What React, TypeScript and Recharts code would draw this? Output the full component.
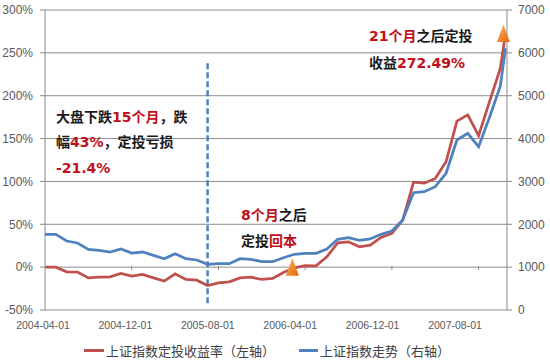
import React from 'react';
import {
  ComposedChart,
  Line,
  XAxis,
  YAxis,
  CartesianGrid,
  ReferenceLine,
  ReferenceDot,
  Legend,
  Customized,
} from 'recharts';

// ---------- data ----------
const dates = [
  '2004-04-01', '2004-05-01', '2004-06-01', '2004-07-01', '2004-08-01', '2004-09-01',
  '2004-10-01', '2004-11-01', '2004-12-01', '2005-01-01', '2005-02-01', '2005-03-01',
  '2005-04-01', '2005-05-01', '2005-06-01', '2005-07-01', '2005-08-01', '2005-09-01',
  '2005-10-01', '2005-11-01', '2005-12-01', '2006-01-01', '2006-02-01', '2006-03-01',
  '2006-04-01', '2006-05-01', '2006-06-01', '2006-07-01', '2006-08-01', '2006-09-01',
  '2006-10-01', '2006-11-01', '2006-12-01', '2007-01-01', '2007-02-01', '2007-03-01',
  '2007-04-01', '2007-05-01', '2007-06-01', '2007-07-01', '2007-08-01', '2007-09-01',
  '2007-10-01', '2007-10-16',
];

// 上证指数定投收益率 (%), left axis
const returnPct = [
  0, 0, -5.5, -5.8, -12.5, -11.7, -11.3, -7.4, -10.5, -8.5, -12.5, -16.3,
  -7.8, -14.4, -15.2, -21.4, -18.3, -17.2, -12.5, -11.7, -14.4, -13.2, -6.2, -0.8,
  1.8, 1.5, 12.0, 28.4, 29.5, 23.7, 25.7, 34.7, 39.3, 54.8, 99.2, 98.0,
  103.5, 122.9, 170.3, 177.7, 153.4, 192.9, 231.8, 272.49,
];

// 上证指数 level, right axis
const indexLevel = [
  1766, 1766, 1610, 1563, 1416, 1393, 1353, 1423, 1330, 1353, 1276, 1197,
  1314, 1197, 1167, 1066, 1080, 1080, 1197, 1183, 1127, 1127, 1220, 1300,
  1323, 1323, 1423, 1650, 1687, 1627, 1657, 1766, 1843, 2100, 2737, 2760,
  2877, 3190, 3967, 4123, 3810, 4490, 5220, 6107,
];

const xTickLabels = ['2004-04-01', '2004-12-01', '2005-08-01', '2006-04-01', '2006-12-01', '2007-08-01'];
const leftTicks = [-50, 0, 50, 100, 150, 200, 250, 300];
const rightTicks = [0, 1000, 2000, 3000, 4000, 5000, 6000, 7000];

const dipDate = '2005-07-01';
const dipLineRange = [238, -42];
const breakevenDate = '2006-02-24';
const breakevenValue = 0;
const finalMarkDate = '2007-10-10';
const finalValue = 272.49;

const seriesNames = ['上证指数定投收益率（左轴）', '上证指数走势（右轴）'];

// ---------- helpers ----------
const toT = (s: string) => {
  const [y, m, d] = s.split('-').map(Number);
  const dim = new Date(y, m, 0).getDate();
  return (y - 2004) * 12 + (m - 4) + (d - 1) / dim;
};

const data = dates.map((d, i) => ({ t: toT(d), ret: returnPct[i], idx: indexLevel[i] }));

const RED = '#c0504d';
const BLUE = '#4f81bd';
const GRID = '#8c8c8c';
const TXT = '#595959';
const ANN_RED = '#c0101a';
const ANN_BLACK = '#1a1a1a';
const AXIS_FONT = 'Liberation Sans, Arial, sans-serif';
const CJK_FONT = '"DejaVu Sans", "Noto Sans CJK SC", sans-serif';

const XTick = (props: any) => {
  const { x, y, payload } = props;
  const label = xTickLabels.find((l) => Math.abs(toT(l) - payload.value) < 1e-6) ?? '';
  const dx = -2 - payload.value * 0.54;
  return (
    <text x={x + dx} y={y + 11} textAnchor="middle" fontSize={10.5} fill={TXT} fontFamily={AXIS_FONT}>
      {label}
    </text>
  );
};

const Triangle = (id: string) => (props: any) => {
  const { cx, cy } = props;
  if (cx == null || cy == null) return null;
  return (
    <g>
      <defs>
        <linearGradient id={id} x1="0" y1="0" x2="1" y2="1">
          <stop offset="0%" stopColor="#fbb36b" />
          <stop offset="60%" stopColor="#f0852a" />
          <stop offset="100%" stopColor="#d9690f" />
        </linearGradient>
      </defs>
      <path d={`M${cx},${cy - 9} L${cx + 6.5},${cy + 8.5} L${cx - 6.5},${cy + 8.5} Z`} fill={`url(#${id})`} />
    </g>
  );
};

const Annotations = () => {
  const base = { fontFamily: CJK_FONT, fontSize: 14, fontWeight: 700 } as const;
  return (
    <g>
      <text x={56} y={121.5} {...base} fill={ANN_BLACK}>
        大盘下跌<tspan fill={ANN_RED}>15个月</tspan>，跌
      </text>
      <text x={56} y={146.5} {...base} fill={ANN_BLACK}>
        幅<tspan fill={ANN_RED}>43%</tspan>，定投亏损
      </text>
      <text x={56} y={172.5} {...base} fill={ANN_RED}>
        -21.4%
      </text>
      <text x={241} y={220} {...base} fill={ANN_BLACK}>
        <tspan fill={ANN_RED}>8个月</tspan>之后
      </text>
      <text x={241} y={246} {...base} fill={ANN_BLACK}>
        定投<tspan fill={ANN_RED}>回本</tspan>
      </text>
      <text x={369} y={41} {...base} fill={ANN_BLACK}>
        <tspan fill={ANN_RED}>21个月</tspan>之后定投
      </text>
      <text x={369} y={67.5} {...base} fill={ANN_BLACK}>
        收益<tspan fill={ANN_RED}>272.49%</tspan>
      </text>
    </g>
  );
};

const LegendContent = () => (
  <div
    style={{
      display: 'flex',
      alignItems: 'center',
      paddingLeft: 84,
      height: 28,
      fontFamily: '"Noto Sans CJK SC", sans-serif',
      fontSize: 13,
      color: '#404040',
    }}
  >
    <span style={{ display: 'flex', alignItems: 'center' }}>
      <span style={{ display: 'inline-block', width: 20, height: 3, background: RED, marginRight: 2 }} />
      {seriesNames[0]}
    </span>
    <span style={{ display: 'flex', alignItems: 'center', marginLeft: 24 }}>
      <span style={{ display: 'inline-block', width: 19, height: 3, background: BLUE, marginRight: 2 }} />
      {seriesNames[1]}
    </span>
  </div>
);

export default function App() {
  const xTicks = xTickLabels.map(toT);
  const dipT = toT(dipDate);
  return (
    <div style={{ position: 'absolute', left: 0, top: 0, width: 550, height: 364, background: '#fff' }}>
      <ComposedChart width={550} height={364} data={data} margin={{ top: 10, right: 0, left: 0, bottom: 0 }}>
        <CartesianGrid yAxisId="left" vertical={false} stroke={GRID} strokeWidth={1} />
        <XAxis
          dataKey="t"
          type="number"
          domain={[0, 42.62]}
          ticks={xTicks}
          tick={<XTick />}
          tickLine={false}
          axisLine={false}
          height={26}
          interval={0}
          allowDataOverflow
        />
        <YAxis
          yAxisId="left"
          domain={[-50, 300]}
          ticks={leftTicks}
          tickFormatter={(v: number) => `${v}%`}
          width={45}
          axisLine={{ stroke: GRID }}
          tickLine={{ stroke: GRID }}
          tickSize={5}
          tickMargin={7}
          tick={{ fontSize: 12, fill: TXT, fontFamily: AXIS_FONT }}
          interval={0}
        />
        <YAxis
          yAxisId="right"
          orientation="right"
          domain={[0, 7000]}
          ticks={rightTicks}
          width={43}
          axisLine={{ stroke: GRID }}
          tickLine={{ stroke: GRID }}
          tickSize={5}
          tickMargin={6}
          tick={{ fontSize: 12, fill: TXT, fontFamily: AXIS_FONT, textAnchor: 'start' }}
          interval={0}
        />
        {xTicks.slice(1).map((t) => (
          <ReferenceLine
            key={t}
            yAxisId="left"
            segment={[{ x: t, y: 1.5 }, { x: t, y: -3.5 }]}
            stroke={GRID}
            strokeWidth={1}
          />
        ))}
        <ReferenceLine
          yAxisId="left"
          segment={[{ x: dipT, y: dipLineRange[0] }, { x: dipT, y: dipLineRange[1] }]}
          stroke={BLUE}
          strokeWidth={2.5}
          strokeDasharray="6 3"
        />
        <Line
          yAxisId="left"
          dataKey="ret"
          name={seriesNames[0]}
          stroke={RED}
          strokeWidth={2.75}
          dot={false}
          isAnimationActive={false}
        />
        <Line
          yAxisId="right"
          dataKey="idx"
          name={seriesNames[1]}
          stroke={BLUE}
          strokeWidth={2.75}
          dot={false}
          isAnimationActive={false}
        />
        <ReferenceDot yAxisId="left" x={toT(breakevenDate)} y={breakevenValue} shape={Triangle('triA')} />
        <ReferenceDot yAxisId="left" x={toT(finalMarkDate)} y={finalValue} shape={Triangle('triB')} />
        <Customized component={Annotations} />
        <Legend verticalAlign="bottom" height={28} content={<LegendContent />} wrapperStyle={{ left: 0, width: 550 }} />
      </ComposedChart>
    </div>
  );
}
